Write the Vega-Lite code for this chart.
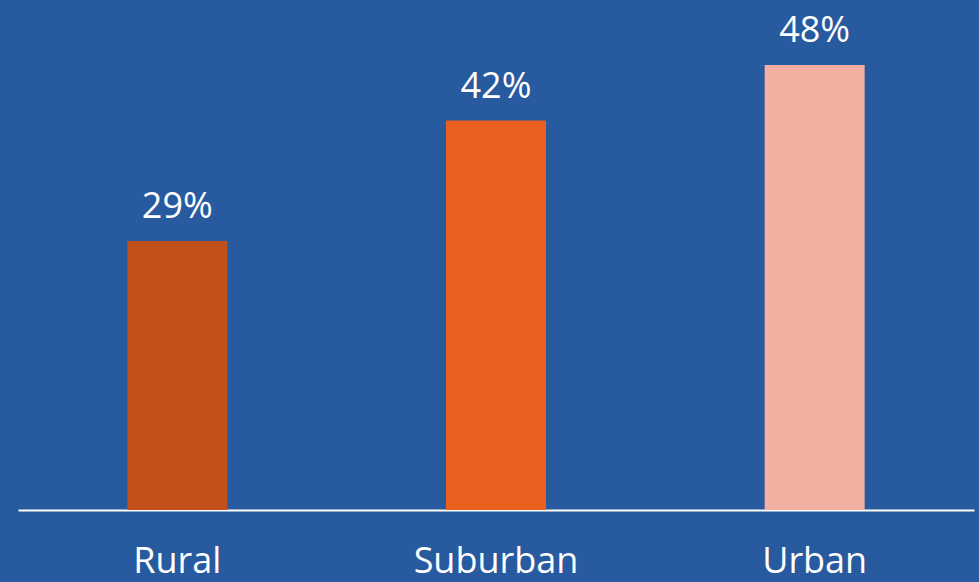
{
  "$schema": "https://vega.github.io/schema/vega-lite/v6.json",
  "width": 956,
  "height": 510,
  "autosize": {"type": "none"},
  "padding": {"left": 18, "top": 0, "right": 5, "bottom": 72},
  "background": "#275A9E",
  "config": {"view": {"stroke": null}, "font": "Open Sans"},
  "data": {
    "values": [
      {"area": "Rural", "share": 29, "label": "29%"},
      {"area": "Suburban", "share": 42, "label": "42%"},
      {"area": "Urban", "share": 48, "label": "48%"}
    ]
  },
  "encoding": {
    "x": {
      "field": "area",
      "type": "nominal",
      "sort": null,
      "scale": {"paddingInner": 0, "paddingOuter": 0},
      "axis": {
        "title": null,
        "labelAngle": 0,
        "labelFontSize": 36,
        "labelColor": "#FFFFFF",
        "labelPadding": 34,
        "ticks": false,
        "domainColor": "#FFFFFF",
        "domainWidth": 2,
        "grid": false
      }
    },
    "y": {
      "field": "share",
      "type": "quantitative",
      "scale": {"domain": [0, 55], "nice": false},
      "axis": null
    }
  },
  "layer": [
    {
      "mark": {"type": "bar", "size": 100},
      "encoding": {
        "color": {
          "field": "area",
          "type": "nominal",
          "scale": {"domain": ["Rural", "Suburban", "Urban"], "range": ["#C1501A", "#EA611F", "#F3AFA0"]},
          "legend": null
        }
      }
    },
    {
      "mark": {"type": "text", "baseline": "alphabetic", "dy": -23, "fontSize": 36, "color": "#FFFFFF"},
      "encoding": {"text": {"field": "label"}}
    }
  ]
}
